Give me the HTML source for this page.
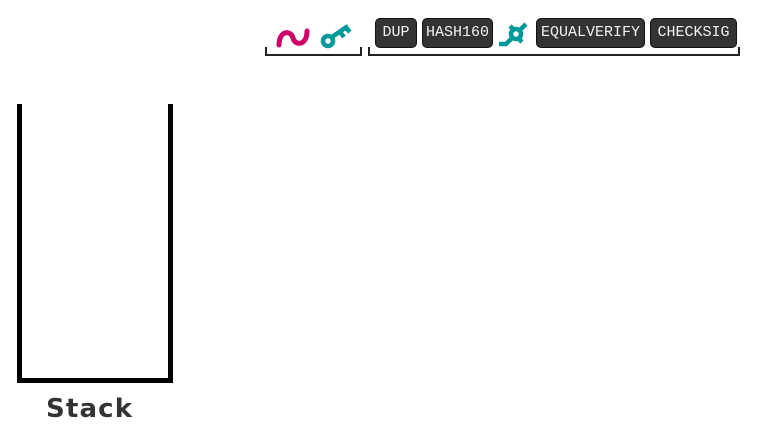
<!DOCTYPE html>
<html><head><meta charset="utf-8"><style>
body{margin:0;width:780px;height:440px;background:#fff;position:relative;overflow:hidden;font-family:"Liberation Sans",sans-serif}
.op{position:absolute;top:18px;height:30px;background:#333;border:1px solid #111;border-radius:5px;box-sizing:border-box;color:#f2f2f2;font:15px "Liberation Mono",monospace;line-height:28px;text-align:center;white-space:nowrap}
</style></head><body>
<svg width="780" height="440" style="position:absolute;left:0;top:0">
<g fill="none" stroke="#000" stroke-width="5">
<path d="M19.5 104 V380.5 H170.5 V104"/>
</g>
<text x="89" y="417" text-anchor="middle" font-family="DejaVu Sans, sans-serif" font-weight="bold" font-size="26" fill="#333" textLength="86">Stack</text>
<g fill="none" stroke="#222" stroke-width="2"><path d="M266 47 V55 H361 V47"/></g>
<g fill="none" stroke="#222" stroke-width="2"><path d="M369 47 V55 H739 V47"/></g>
<path d="M279 45 C279 30 291 30 293 38 C295 46 307 46 307 31" fill="none" stroke="#cc0066" stroke-width="5" stroke-linecap="round"/>
<g fill="none" stroke="#009999" stroke-width="4.5">
<circle cx="328" cy="41" r="5"/>
<path d="M332 37 L348 26 M340 32 L344 37 M346 28 L350 32"/>
</g>
<g fill="none" stroke="#009999" stroke-width="4.5">
<circle cx="516" cy="34" r="5"/>
<path d="M499 44 H506 L512 38 M520 30 L526 24 M510 26 L514 30 M518 38 L522 42"/>
</g>
</svg>
<div class="op" style="left:375px;width:42px">DUP</div>
<div class="op" style="left:422px;width:71px">HASH160</div>
<div class="op" style="left:536px;width:109px">EQUALVERIFY</div>
<div class="op" style="left:650px;width:87px">CHECKSIG</div>
</body></html>
